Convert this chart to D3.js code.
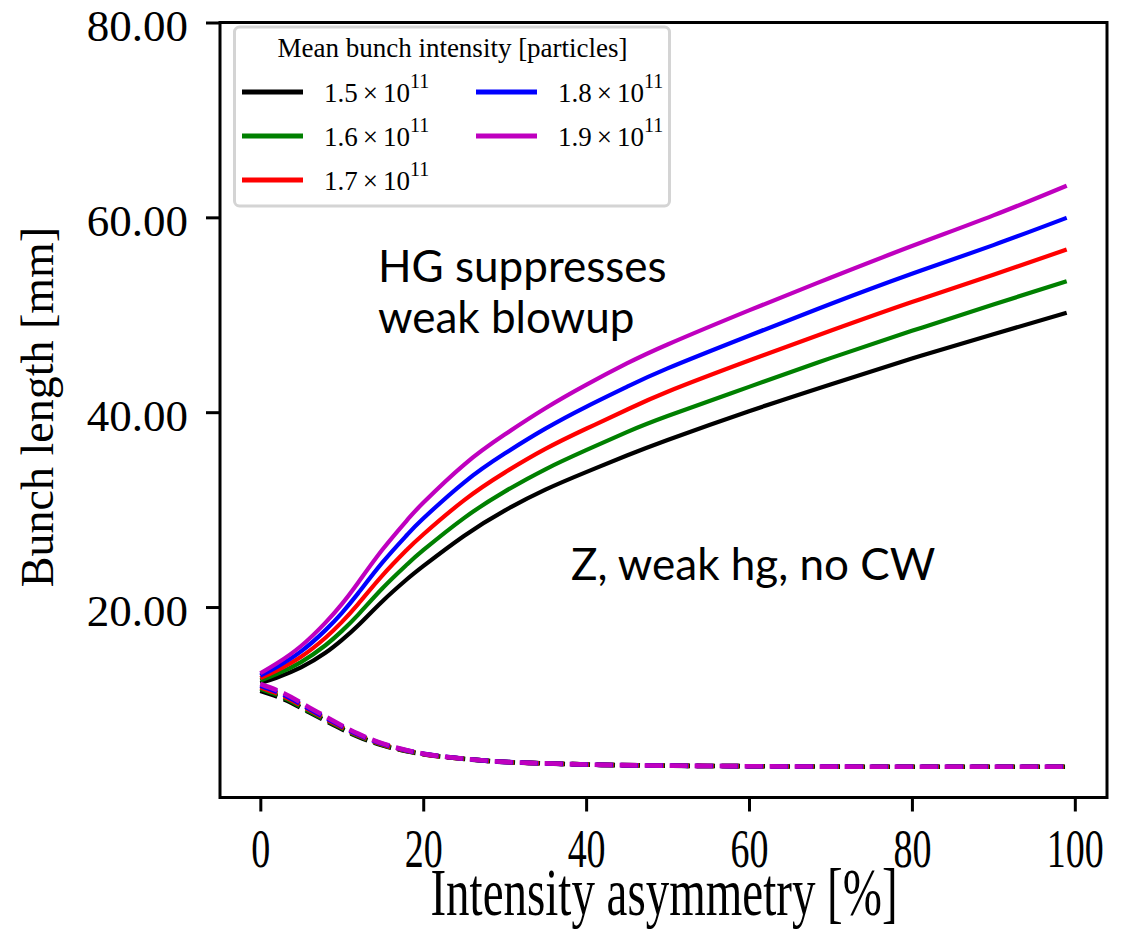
<!DOCTYPE html>
<html>
<head>
<meta charset="utf-8">
<script src="https://cdn.jsdelivr.net/npm/d3@7/dist/d3.min.js"></script>
<style>
  html, body { margin: 0; padding: 0; background: #fff; }
  svg { display: block; }
</style>
</head>
<body>
<svg id="chart" width="1135" height="934"></svg>
<script>
// Asymmetry grid (percent) for the bunch-length curves
const asymSolid = [0, 2, 5, 8, 10, 12, 15, 18, 20, 25, 30, 35, 40, 45, 50, 60, 70, 80, 90, 99];
const asymDashed = [0, 3, 6, 9, 12, 15, 18, 20, 23, 26, 29, 33, 37, 42, 50, 60, 70, 80, 90, 99];

// Intensity labels (mantissa of N x 10^11)
const intensities = ["1.5", "1.6", "1.7", "1.8", "1.9"];
const colors = ["#000000", "#008000", "#ff0000", "#0000ff", "#bf00bf"];

// Longer bunch (solid) for each intensity, mm
const long15 = [12.2, 12.75, 13.8, 15.3, 16.6, 18.1, 20.6, 22.85, 24.2, 27.3, 29.9, 32.05, 33.85, 35.55, 37.15, 40.1, 42.85, 45.5, 48.0, 50.2];
const long16 = [12.45, 13.11, 14.35, 16.08, 17.53, 19.2, 21.93, 24.36, 25.83, 29.13, 31.85, 34.14, 36.1, 37.95, 39.6, 42.6, 45.55, 48.35, 51.05, 53.45];
const long17 = [12.7, 13.48, 14.9, 16.85, 18.45, 20.3, 23.25, 25.88, 27.45, 30.95, 33.8, 36.23, 38.3, 40.25, 42.1, 45.3, 48.35, 51.3, 54.1, 56.7];
const long18 = [12.95, 13.84, 15.45, 17.63, 19.38, 21.4, 24.58, 27.39, 29.08, 32.78, 35.75, 38.31, 40.55, 42.6, 44.5, 47.85, 51.1, 54.2, 57.15, 59.95];
const long19 = [13.2, 14.2, 16.0, 18.4, 20.3, 22.5, 25.9, 28.9, 30.7, 34.6, 37.7, 40.4, 42.8, 45.0, 46.95, 50.45, 53.8, 57.05, 60.2, 63.25];

// Shorter bunch (dashed) for each intensity, mm
const short15 = [11.4, 10.5, 9.2, 7.9, 6.7, 5.8, 5.2, 4.9, 4.58, 4.34, 4.14, 4.0, 3.9, 3.8, 3.72, 3.66, 3.62, 3.6, 3.6, 3.6];
const short16 = [11.6, 10.65, 9.3, 8.0, 6.78, 5.85, 5.23, 4.91, 4.59, 4.345, 4.145, 4.0, 3.9, 3.8, 3.72, 3.66, 3.62, 3.6, 3.6, 3.6];
const short17 = [11.75, 10.8, 9.45, 8.1, 6.85, 5.9, 5.25, 4.92, 4.59, 4.345, 4.145, 4.0, 3.9, 3.8, 3.72, 3.66, 3.62, 3.6, 3.6, 3.6];
const short18 = [11.95, 10.95, 9.55, 8.2, 6.92, 5.95, 5.28, 4.94, 4.6, 4.35, 4.15, 4.0, 3.9, 3.8, 3.72, 3.66, 3.62, 3.6, 3.6, 3.6];
const short19 = [12.1, 11.1, 9.7, 8.3, 7.0, 6.0, 5.3, 4.95, 4.6, 4.35, 4.15, 4.0, 3.9, 3.8, 3.72, 3.66, 3.62, 3.6, 3.6, 3.6];

const xTicks = [0, 20, 40, 60, 80, 100];
const yTicks = [20, 40, 60, 80];

const longSeries = [long15, long16, long17, long18, long19];
const shortSeries = [short15, short16, short17, short18, short19];

const svg = d3.select("#chart");
const serif = "'Liberation Serif', 'Times New Roman', serif";
const sans = "Lato, 'Open Sans', sans-serif";

const plot = { left: 220, right: 1107, top: 22.5, bottom: 797.5 };
const x = d3.scaleLinear().domain([-4.95, 103.95]).range([plot.left, plot.right]);
const y = d3.scaleLinear().domain([0.45, 80]).range([plot.bottom, plot.top]);

// Curves: solid then dashed for each intensity
const solidLine = d3.line().x(d => x(d[0])).y(d => y(d[1])).curve(d3.curveNatural);
const dashLine = d3.line().x(d => x(d[0])).y(d => y(d[1])).curve(d3.curveMonotoneX);
const lines = svg.append("g");
intensities.forEach((lab, i) => {
  lines.append("path")
    .attr("d", solidLine(asymSolid.map((a, k) => [a, longSeries[i][k]])))
    .attr("fill", "none").attr("stroke", colors[i])
    .attr("stroke-width", 4.2).attr("stroke-linejoin", "round");
  lines.append("path")
    .attr("d", dashLine(asymDashed.map((a, k) => [a, shortSeries[i][k]])))
    .attr("fill", "none").attr("stroke", colors[i])
    .attr("stroke-width", 4.6).attr("stroke-dasharray", "18,7");
});

// Frame
svg.append("rect")
  .attr("x", plot.left).attr("y", plot.top)
  .attr("width", plot.right - plot.left).attr("height", plot.bottom - plot.top)
  .attr("fill", "none").attr("stroke", "#000").attr("stroke-width", 3);

// Y axis
const yAxis = svg.append("g")
  .attr("transform", `translate(${plot.left},0)`)
  .call(d3.axisLeft(y).tickValues(yTicks).tickSize(14).tickPadding(18).tickFormat(d3.format(".2f")));
yAxis.select(".domain").remove();
yAxis.selectAll(".tick line").attr("stroke", "#000").attr("stroke-width", 3);
yAxis.selectAll(".tick text")
  .attr("font-family", serif).attr("font-size", 45).attr("fill", "#000")
  .attr("dy", null).attr("y", 18);

// X axis (labels drawn tall, as in the figure)
const xAxis = svg.append("g")
  .attr("transform", `translate(0,${plot.bottom})`)
  .call(d3.axisBottom(x).tickValues(xTicks).tickSize(14).tickPadding(14).tickFormat(d3.format("d")));
xAxis.select(".domain").remove();
xAxis.selectAll(".tick line").attr("stroke", "#000").attr("stroke-width", 3);
xAxis.selectAll(".tick text")
  .attr("font-family", serif).attr("font-size", 38).attr("fill", "#000")
  .attr("y", 0).attr("dy", null)
  .attr("transform", "translate(0,69) scale(1,1.45)");

// Axis titles
svg.append("text")
  .attr("transform", "translate(664,915) scale(1,1.45)")
  .attr("text-anchor", "middle")
  .attr("font-family", serif).attr("font-size", 47)
  .text("Intensity asymmetry [%]");
svg.append("text")
  .attr("transform", "translate(53,407) rotate(-90)")
  .attr("text-anchor", "middle")
  .attr("font-family", serif).attr("font-size", 46)
  .text("Bunch length [mm]");

// Annotations
const notes = svg.append("g").attr("font-family", sans).attr("font-size", 44).attr("fill", "#000");
notes.append("text").attr("x", 378).attr("y", 282).text("HG suppresses");
notes.append("text").attr("x", 378).attr("y", 333).text("weak blowup");
notes.append("text").attr("x", 571).attr("y", 580).text("Z, weak hg, no CW");

// Legend
const legend = svg.append("g");
legend.append("rect")
  .attr("x", 234.5).attr("y", 27).attr("width", 435).attr("height", 179)
  .attr("rx", 5).attr("fill", "#fff").attr("stroke", "#d4d4d4").attr("stroke-width", 3);
legend.append("text")
  .attr("x", 452.5).attr("y", 57).attr("text-anchor", "middle")
  .attr("font-family", serif).attr("font-size", 27)
  .text("Mean bunch intensity [particles]");
const legendPos = [[242, 92], [242, 136], [242, 180], [476, 92], [476, 136]];
intensities.forEach((lab, i) => {
  const [lx, ly] = legendPos[i];
  legend.append("line")
    .attr("x1", lx).attr("x2", lx + 61).attr("y1", ly).attr("y2", ly)
    .attr("stroke", colors[i]).attr("stroke-width", 5);
  const t = legend.append("text")
    .attr("x", lx + 82).attr("y", ly + 10)
    .attr("font-family", serif).attr("font-size", 27);
  t.append("tspan").text(lab);
  t.append("tspan").attr("dx", 5).text("\u00d7");
  t.append("tspan").attr("dx", 5).text("10");
  t.append("tspan").attr("dy", -14).attr("font-size", 20).text("11");
});
</script>
</body>
</html>
